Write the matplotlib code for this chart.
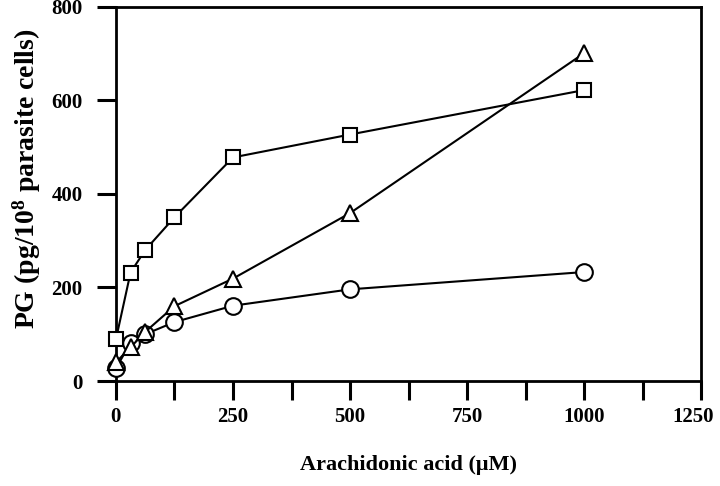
import matplotlib
matplotlib.use("Agg")
import matplotlib.pyplot as plt
from matplotlib.transforms import ScaledTranslation

conc = [0, 31.25, 62.5, 125, 250, 500, 1000]
squares = [89, 232, 280, 350, 478, 527, 622]
triangles = [40, 72, 105, 160, 219, 359, 701]
circles = [27, 82, 100, 126, 161, 196, 233]

xticks = [0, 125, 250, 375, 500, 625, 750, 875, 1000, 1125, 1250]
xticklabels = ["0", "", "250", "", "500", "", "750", "", "1000", "", "1250"]
yticks = [0, 200, 400, 600, 800]

plt.rcParams['font.family'] = ['Liberation Serif', 'DejaVu Serif']
plt.rcParams['font.weight'] = 'bold'
plt.rcParams['mathtext.fontset'] = 'custom'
plt.rcParams['mathtext.rm'] = 'Liberation Serif:bold'
plt.rcParams['mathtext.it'] = 'Liberation Serif:bold'
plt.rcParams['mathtext.bf'] = 'Liberation Serif:bold'

fig = plt.figure(figsize=(7.2, 4.86), dpi=100)
ax = fig.add_axes([0.161, 0.216, 0.813, 0.770])

style = dict(color='black', linewidth=1.5, markerfacecolor='white',
             markeredgecolor='black', markeredgewidth=1.5, clip_on=False)
ax.plot(conc, circles, marker='o', markersize=12, zorder=3, **style)
ax.plot(conc, triangles, marker='^', markersize=12, zorder=4, **style)
ax.plot(conc, squares, marker='s', markersize=10.5, zorder=5, **style)

ax.set_xlim(0, 1250)
ax.set_ylim(0, 800)
ax.set_xticks(xticks)
ax.set_xticklabels(xticklabels)
ax.set_yticks(yticks)
ax.tick_params(axis='both', direction='out', length=14, width=2.2,
               labelsize=15, color='black')
ax.tick_params(axis='x', pad=5)
ax.tick_params(axis='y', pad=10)
for lab in ax.get_xticklabels() + ax.get_yticklabels():
    lab.set_fontweight('bold')
last = ax.get_xticklabels()[-1]
last.set_transform(last.get_transform() + ScaledTranslation(-8 / 100, 0, fig.dpi_scale_trans))
for s in ax.spines.values():
    s.set_linewidth(2)

ax.set_xlabel('Arachidonic acid (\u03bcM)', fontsize=16, fontweight='bold', labelpad=20)
ax.set_ylabel('PG (pg/10$^{8}$ parasite cells)', fontsize=20, fontweight='bold', labelpad=8)
ax.yaxis.set_label_coords(-0.125, 0.54)

fig.savefig('out.png', dpi=100)
